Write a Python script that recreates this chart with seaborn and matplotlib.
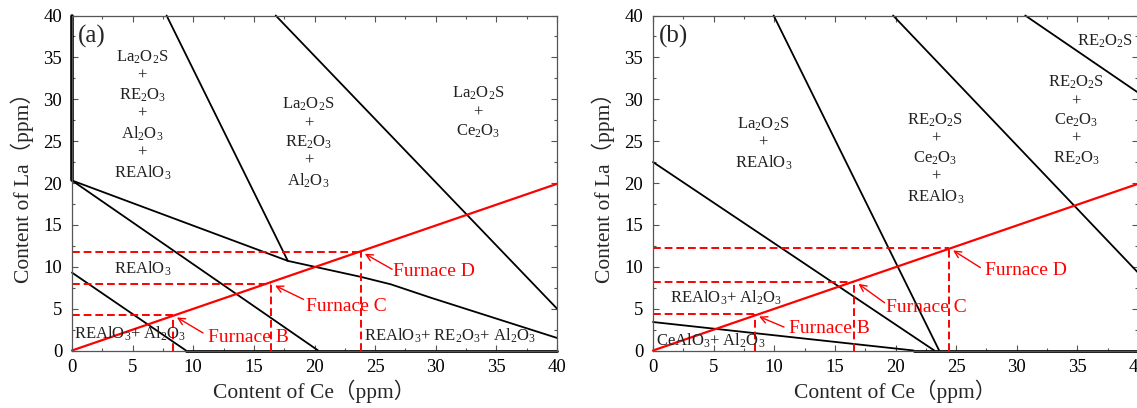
import matplotlib
matplotlib.use('Agg')
import matplotlib.pyplot as plt
import seaborn as sns
import pandas as pd

# ---- panel (a) boundaries (Ce, La in ppm) ----
a1_ce = [0, 17.8, 23.8, 26.3, 29.6, 40]
a1_la = [20.3, 10.7, 8.8, 7.9, 6.3, 1.5]
a2_ce = [7.8, 17.8]
a2_la = [40, 10.7]
a3_ce = [16.8, 40]
a3_la = [40, 5.0]
a4_ce = [0, 20.3]
a4_la = [20.3, 0]
a5_ce = [0, 9.4]
a5_la = [9.3, 0]
a_left_ce = [0, 0]
a_left_la = [20.3, 40]
a_bot_ce = [9.4, 40]
a_bot_la = [0, 0]

# ---- panel (b) boundaries ----
b1_ce = [0, 23.2]
b1_la = [22.5, 0]
b2_ce = [9.95, 23.6]
b2_la = [40, 0]
b3_ce = [19.8, 40]
b3_la = [40, 9.3]
b4_ce = [30.7, 40]
b4_la = [40, 30.8]
b5_ce = [0, 21.5]
b5_la = [3.4, 0]
b_bot_ce = [21.5, 40]
b_bot_la = [0, 0]

# red composition line and furnace points
red_ce = [0, 40]
red_la = [0, 19.9]
fur_names = ['Furnace B', 'Furnace C', 'Furnace D']
a_fur_ce = [8.3, 16.4, 23.8]
a_fur_la = [4.2, 8.0, 11.8]
b_fur_ce = [8.4, 16.6, 24.4]
b_fur_la = [4.3, 8.2, 12.2]

sns.set_theme(style='ticks')
plt.rcParams['font.family'] = ['Liberation Serif', 'Noto Sans CJK SC']
plt.rcParams['mathtext.fontset'] = 'custom'
plt.rcParams['mathtext.rm'] = 'Liberation Serif'
plt.rcParams['mathtext.default'] = 'regular'

fig = plt.figure(figsize=(11.37, 4.08), dpi=100)
ax_a = fig.add_axes([72/1137, 57.5/408, 485/1137, 335/408])
ax_b = fig.add_axes([653/1137, 57.5/408, 485/1137, 335/408])

TXT = '#222222'


def bline(ax, ce, la, lw=1.3, color='black', ls='-'):
    d = pd.DataFrame({'ce': ce, 'la': la})
    sns.lineplot(data=d, x='ce', y='la', ax=ax, color=color, lw=lw,
                 linestyle=ls, sort=False, estimator=None, clip_on=False)


def furnaces(ax, fce, fla, tails, texts):
    for i in range(len(fce)):
        bline(ax, [0, fce[i]], [fla[i], fla[i]], lw=1.4, color='#ff0000', ls=(0, (4, 2)))
        bline(ax, [fce[i], fce[i]], [0, fla[i]], lw=1.4, color='#ff0000', ls=(0, (4, 2)))
        ax.annotate('', xy=(fce[i] + 0.35, fla[i] - 0.25), xytext=tails[i],
                    arrowprops=dict(arrowstyle='->', color='#ff0000', lw=1,
                                    shrinkA=0, shrinkB=0))
        ax.text(texts[i][0], texts[i][1], fur_names[i], color='#ff0000',
                fontsize=14, ha='left', va='center')


def stack(ax, x, y, s):
    ax.text(x, y, s, fontsize=12, ha='center', va='center', linespacing=1.18, color=TXT)


def style(ax, tag):
    ax.set_xlim(0, 40)
    ax.set_ylim(0, 40)
    ax.set_xticks(range(0, 41, 5))
    ax.set_yticks(range(0, 41, 5))
    ax.set_xticks([x + 2.5 for x in range(0, 40, 5)], minor=True)
    ax.set_yticks([x + 2.5 for x in range(0, 40, 5)], minor=True)
    ax.tick_params(which='both', direction='in', top=True, right=True,
                   colors='#555555', labelcolor='black', width=0.8)
    ax.tick_params(which='major', length=4, labelsize=13.5)
    ax.tick_params(axis='x', which='major', pad=6)
    ax.tick_params(axis='y', which='major', pad=7)
    ax.tick_params(which='minor', length=2)
    for s in ax.spines.values():
        s.set_color('#555555')
        s.set_linewidth(0.9)
    ax.set_xlabel('Content of Ce（ppm）', fontsize=15.5, labelpad=3)
    ax.set_ylabel('Content of La（ppm）', fontsize=15.5, labelpad=7)
    ax.text(0.5, 37.5, tag, fontsize=18, ha='left', va='center')


# ---- (a) ----
for ce, la in [(a1_ce, a1_la), (a2_ce, a2_la), (a3_ce, a3_la), (a4_ce, a4_la), (a5_ce, a5_la)]:
    bline(ax_a, ce, la)
bline(ax_a, a_left_ce, a_left_la, lw=2.6)
bline(ax_a, a_bot_ce, a_bot_la, lw=2.0)
bline(ax_a, red_ce, red_la, lw=1.6, color='#ff0000')
furnaces(ax_a, a_fur_ce, a_fur_la,
         [(10.8, 2.1), (19.1, 6.1), (26.4, 9.7)],
         [(11.2, 1.6), (19.3, 5.2), (26.5, 9.4)])
stack(ax_a, 5.8, 28.1, 'La$_2$O$_2$S\n+\nRE$_2$O$_3$\n+\nAl$_2$O$_3$\n+\nREAlO$_3$')
stack(ax_a, 19.5, 24.8, 'La$_2$O$_2$S\n+\nRE$_2$O$_3$\n+\nAl$_2$O$_3$')
stack(ax_a, 33.5, 28.4, 'La$_2$O$_2$S\n+\nCe$_2$O$_3$')
stack(ax_a, 5.8, 9.7, 'REAlO$_3$')
stack(ax_a, 4.8, 2.0, 'REAlO$_3$+ Al$_2$O$_3$')
stack(ax_a, 31.2, 1.7, 'REAlO$_3$+ RE$_2$O$_3$+ Al$_2$O$_3$')
style(ax_a, '(a)')

# ---- (b) ----
for ce, la in [(b1_ce, b1_la), (b2_ce, b2_la), (b3_ce, b3_la), (b4_ce, b4_la), (b5_ce, b5_la)]:
    bline(ax_b, ce, la)
bline(ax_b, b_bot_ce, b_bot_la, lw=2.0)
bline(ax_b, red_ce, red_la, lw=1.6, color='#ff0000')
furnaces(ax_b, b_fur_ce, b_fur_la,
         [(10.8, 2.8), (19.1, 5.7), (27.0, 9.9)],
         [(11.25, 2.6), (19.2, 5.1), (27.4, 9.5)])
stack(ax_b, 9.1, 24.7, 'La$_2$O$_2$S\n+\nREAlO$_3$')
stack(ax_b, 23.3, 22.9, 'RE$_2$O$_2$S\n+\nCe$_2$O$_3$\n+\nREAlO$_3$')
stack(ax_b, 34.9, 27.5, 'RE$_2$O$_2$S\n+\nCe$_2$O$_3$\n+\nRE$_2$O$_3$')
stack(ax_b, 37.3, 36.9, 'RE$_2$O$_2$S')
stack(ax_b, 6.0, 6.3, 'REAlO$_3$+ Al$_2$O$_3$')
stack(ax_b, 4.75, 1.2, 'CeAlO$_3$+ Al$_2$O$_3$')
style(ax_b, '(b)')

fig.savefig('out.png', dpi=100)
